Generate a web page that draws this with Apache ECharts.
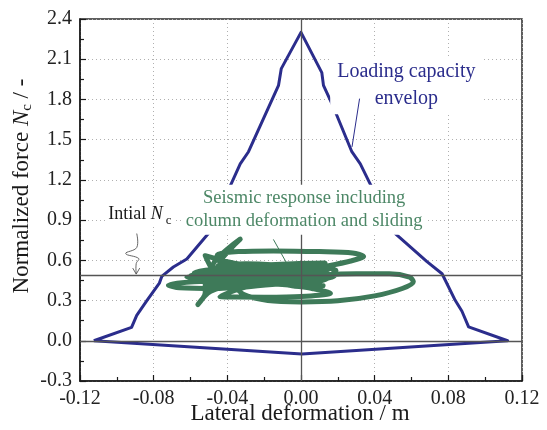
<!DOCTYPE html>
<html>
<head>
<meta charset="utf-8">
<script src="https://cdn.jsdelivr.net/npm/echarts@6/dist/echarts.min.js"></script>
<style>
  html, body { margin: 0; padding: 0; background: #fff; }
  #chart { width: 547px; height: 430px; }
</style>
</head>
<body>
<div id="chart"></div>
<script>
// Axis ticks
const xTicks = [-0.12, -0.08, -0.04, 0.00, 0.04, 0.08, 0.12];
const yTicks = [-0.3, 0.0, 0.3, 0.6, 0.9, 1.2, 1.5, 1.8, 2.1, 2.4];

// Initial axial force level (horizontal reference line)
const initialNc = 0.49;

// Loading capacity envelope: [lateral deformation (m), normalized force]
const envelope = [
  [-0.1125, 0.00], [-0.0920, 0.10], [-0.0892, 0.19], [-0.0837, 0.30],
  [-0.0769, 0.43], [-0.0756, 0.48], [-0.0693, 0.55], [-0.0620, 0.61],
  [-0.0503, 0.80], [-0.0376, 1.18], [-0.0330, 1.32], [-0.0285, 1.41],
  [-0.0122, 1.905], [-0.0113, 1.98], [-0.0107, 2.03], [0.0000, 2.30],
  [0.0113, 2.00], [0.0122, 1.905], [0.0177, 1.74], [0.0276, 1.41],
  [0.0322, 1.32], [0.0372, 1.18], [0.0512, 0.80], [0.0684, 0.59],
  [0.0766, 0.50], [0.0838, 0.30], [0.0874, 0.22], [0.0910, 0.104],
  [0.1122, 0.00], [0.0005, -0.099], [-0.1125, 0.00]
];

// Seismic response path (column deformation + sliding): [deformation (m), normalized force]
const response = [
  [0.000, 0.49], [0.005, 0.51], [-0.003, 0.475], [-0.012, 0.50], [0.002, 0.53],
  [0.011, 0.49], [0.004, 0.455], [-0.014, 0.465], [-0.024, 0.505], [-0.010, 0.54],
  [0.010, 0.525], [0.015, 0.47], [-0.004, 0.44], [-0.030, 0.46], [-0.044, 0.515],
  [-0.026, 0.55], [0.004, 0.555], [0.019, 0.525], [0.012, 0.465], [-0.018, 0.44],
  [-0.050, 0.46], [-0.058, 0.505], [-0.042, 0.535], [-0.012, 0.525], [0.008, 0.505],
  [0.003, 0.465], [-0.028, 0.45], [-0.058, 0.44], [-0.072, 0.415], [-0.066, 0.395],
  [-0.046, 0.39], [-0.020, 0.42], [0.000, 0.455], [0.014, 0.49], [0.030, 0.50],
  [0.048, 0.50], [0.059, 0.475], [0.061, 0.44], [0.055, 0.39], [0.040, 0.335],
  [0.020, 0.298], [0.000, 0.29], [-0.018, 0.30], [-0.031, 0.345], [-0.035, 0.40],
  [-0.026, 0.46], [-0.006, 0.50], [0.010, 0.545], [0.027, 0.595], [0.034, 0.628],
  [0.028, 0.655], [0.010, 0.665], [-0.015, 0.67], [-0.034, 0.665], [-0.045, 0.645],
  [-0.046, 0.61], [-0.036, 0.575], [-0.016, 0.55], [0.008, 0.56], [0.013, 0.58],
  [-0.004, 0.575], [-0.026, 0.56], [-0.044, 0.535], [-0.048, 0.555], [-0.033, 0.758],
  [-0.044, 0.58], [-0.030, 0.52], [-0.008, 0.49], [0.006, 0.47], [-0.012, 0.445],
  [-0.040, 0.43], [-0.052, 0.42], [-0.052, 0.36], [-0.056, 0.27], [-0.049, 0.37],
  [-0.032, 0.43], [-0.010, 0.465], [0.007, 0.48], [0.016, 0.475], [0.004, 0.50],
  [-0.020, 0.515], [-0.045, 0.50], [-0.052, 0.635], [-0.040, 0.59], [-0.024, 0.545],
  [-0.005, 0.53], [0.010, 0.51], [0.000, 0.47], [-0.024, 0.45], [-0.040, 0.475],
  [-0.022, 0.50], [0.002, 0.485], [0.012, 0.455], [-0.006, 0.43], [-0.030, 0.40],
  [-0.044, 0.33], [-0.020, 0.325], [0.000, 0.33], [0.016, 0.355], [0.006, 0.39],
  [-0.010, 0.43], [-0.002, 0.47], [0.008, 0.52], [-0.010, 0.545], [-0.036, 0.53],
  [-0.050, 0.49], [-0.035, 0.46], [-0.010, 0.475], [0.003, 0.51], [-0.008, 0.53],
  [-0.020, 0.49], [-0.006, 0.46], [0.006, 0.44], [0.000, 0.42], [-0.015, 0.45],
  [-0.020, 0.50], [-0.058, 0.48], [-0.062, 0.475], [-0.050, 0.455], [-0.020, 0.44],
  [0.004, 0.45], [0.018, 0.48], [0.006, 0.52], [-0.025, 0.53], [-0.055, 0.50],
  [-0.060, 0.485], [-0.040, 0.47], [-0.005, 0.485], [0.012, 0.50], [0.000, 0.545],
  [-0.030, 0.575], [-0.045, 0.56], [-0.030, 0.54], [0.000, 0.52], [0.015, 0.53],
  [0.006, 0.56], [-0.020, 0.565], [-0.040, 0.545], [-0.052, 0.51], [-0.035, 0.48],
  [-0.010, 0.44], [0.005, 0.42], [0.012, 0.41], [-0.004, 0.415], [-0.030, 0.44],
  [-0.055, 0.46], [-0.045, 0.49], [-0.015, 0.505], [0.005, 0.49], [0.014, 0.46],
  [0.000, 0.43], [-0.020, 0.455], [-0.008, 0.50], [0.002, 0.49]
];

// Annotation text
const envelopeLabel = ['Loading capacity', 'envelop'];
const responseLabel = ['Seismic response including', 'column deformation and sliding'];

const SERIF = 'Liberation Serif';
const BLUE = '#2b2d8c';
const GREEN = '#3e7a59';
const GREEN_TEXT = '#4c8766';

const chart = echarts.init(document.getElementById('chart'), null, { renderer: 'canvas' });

const axisCommon = {
  axisLine: { show: true, onZero: false, lineStyle: { color: '#1a1a1a', width: 1.5 } },
  axisTick: { show: true, inside: true, length: 6, lineStyle: { color: '#1a1a1a', width: 1.2 } },
  minorTick: { show: true, splitNumber: 2, length: 4, lineStyle: { color: '#1a1a1a', width: 1.2 } },
  splitLine: { show: true, lineStyle: { color: '#b0b0b0', width: 1, type: [1, 3] } },
  axisLabel: { color: '#222', fontFamily: SERIF, fontSize: 20 }
};

const fmt = (v, d) => (Math.abs(v) < 1e-9 ? 0 : v).toFixed(d);

chart.setOption({
  animation: false,
  backgroundColor: '#fff',
  grid: {
    left: 80, right: 25, top: 19, bottom: 49,
    show: true, borderColor: '#2a2a2a', borderWidth: 1.5, backgroundColor: 'transparent'
  },
  xAxis: Object.assign({
    type: 'value',
    min: xTicks[0], max: xTicks[xTicks.length - 1],
    interval: xTicks[1] - xTicks[0]
  }, axisCommon, {
    axisLabel: Object.assign({}, axisCommon.axisLabel, {
      margin: 8,
      formatter: v => fmt(v, 2)
    })
  }),
  yAxis: Object.assign({
    type: 'value',
    min: yTicks[0], max: yTicks[yTicks.length - 1],
    interval: yTicks[1] - yTicks[0]
  }, axisCommon, {
    axisLabel: Object.assign({}, axisCommon.axisLabel, {
      margin: 8,
      formatter: v => fmt(v, 1)
    })
  }),
  series: [
    {
      name: 'envelope',
      type: 'line',
      data: envelope,
      showSymbol: false,
      z: 3,
      lineStyle: { color: BLUE, width: 3, join: 'round' }
    },
    {
      name: 'response',
      type: 'line',
      data: response,
      showSymbol: false,
      smooth: 0.3,
      z: 4,
      lineStyle: { color: GREEN, width: 5, cap: 'round', join: 'round' }
    },
    {
      name: 'reference',
      type: 'line',
      data: [],
      z: 5,
      markLine: {
        silent: true,
        symbol: 'none',
        label: { show: false },
        lineStyle: { color: '#555', width: 1.3, type: 'solid' },
        data: [{ xAxis: 0 }, { yAxis: 0 }, { yAxis: initialNc }]
      }
    }
  ]
});

const toPx = (x, y) => chart.convertToPixel({ gridIndex: 0 }, [x, y]);

// Annotation anchors in data space
const envLabelAt = toPx(0.0572, 1.905);
const respLabelAt = toPx(0.0017, 0.978);
const initLabelAt = toPx(-0.0875, 0.94);
const envLeaderA = toPx(0.0318, 1.806);
const envLeaderB = toPx(0.0277, 1.446);
const respLeaderA = toPx(-0.0150, 0.756);
const respLeaderB = toPx(-0.0077, 0.577);
const arrowTop = toPx(-0.0892, 0.80);
const arrowTip = toPx(-0.0892, initialNc);

const tx = arrowTop[0], ty = arrowTop[1];

chart.setOption({
  graphic: [
    // axis titles
    {
      type: 'text', z: 100,
      x: 300, y: 414,
      style: {
        text: 'Lateral deformation / m',
        fill: '#1a1a1a', font: '23px ' + SERIF,
        align: 'center', verticalAlign: 'middle'
      }
    },
    {
      type: 'text', z: 100,
      x: 22, y: 186, rotation: Math.PI / 2,
      style: {
        text: '{n|Normalized force }{i|N}{s|c}{n| / -}',
        fill: '#1a1a1a',
        align: 'center', verticalAlign: 'middle',
        rich: {
          n: { fontFamily: SERIF, fontSize: 23, lineHeight: 26, fill: '#1a1a1a' },
          i: { fontFamily: SERIF, fontSize: 23, fontStyle: 'italic', lineHeight: 26, fill: '#1a1a1a' },
          s: { fontFamily: SERIF, fontSize: 15, lineHeight: 10, verticalAlign: 'bottom', fill: '#1a1a1a' }
        }
      }
    },
    // envelope label with white backing
    {
      type: 'text', z: 90,
      x: envLabelAt[0], y: envLabelAt[1],
      style: {
        text: envelopeLabel.join('\n'),
        fill: BLUE, font: '20px ' + SERIF, lineHeight: 27,
        align: 'center', verticalAlign: 'middle',
        backgroundColor: '#fff', padding: [2, 7, 2, 7]
      }
    },
    {
      type: 'line', z: 95,
      shape: { x1: envLeaderA[0], y1: envLeaderA[1], x2: envLeaderB[0], y2: envLeaderB[1] },
      style: { stroke: BLUE, lineWidth: 1 }
    },
    // response label with white backing
    {
      type: 'text', z: 90,
      x: respLabelAt[0], y: respLabelAt[1],
      style: {
        text: responseLabel.join('\n'),
        fill: GREEN_TEXT, font: '18.5px ' + SERIF, lineHeight: 23,
        align: 'center', verticalAlign: 'middle',
        backgroundColor: '#fff', padding: [2, 4, 2, 4]
      }
    },
    {
      type: 'line', z: 95,
      shape: { x1: respLeaderA[0], y1: respLeaderA[1], x2: respLeaderB[0], y2: respLeaderB[1] },
      style: { stroke: GREEN, lineWidth: 1 }
    },
    // initial Nc label
    {
      type: 'text', z: 90,
      x: initLabelAt[0], y: initLabelAt[1],
      style: {
        text: '{n|Intial }{i|N}{s|c}',
        align: 'center', verticalAlign: 'middle',
        backgroundColor: '#fff', padding: [0, 3, 0, 3],
        rich: {
          n: { fontFamily: SERIF, fontSize: 18, lineHeight: 22, fill: '#1a1a1a' },
          i: { fontFamily: SERIF, fontSize: 18, fontStyle: 'italic', lineHeight: 22, fill: '#1a1a1a', padding: [0, 3, 0, 0] },
          s: { fontFamily: SERIF, fontSize: 13, lineHeight: 22, padding: [12, 0, 0, 0], fill: '#1a1a1a' }
        }
      }
    },
    // wavy pointer down to the initial force line
    {
      type: 'polyline', z: 95,
      shape: {
        smooth: 0.4,
        points: [
          [tx, ty], [tx, ty + 14], [tx - 11, ty + 20], [tx + 2, ty + 25],
          [arrowTip[0] - 0.5, ty + 30], [arrowTip[0] - 0.5, arrowTip[1] - 1]
        ]
      },
      style: { stroke: '#555', lineWidth: 0.9, fill: null }
    },
    {
      type: 'polyline', z: 95,
      shape: {
        points: [
          [arrowTip[0] - 4, arrowTip[1] - 7], [arrowTip[0] - 0.5, arrowTip[1] - 1],
          [arrowTip[0] + 3, arrowTip[1] - 7]
        ]
      },
      style: { stroke: '#555', lineWidth: 0.9, fill: null }
    }
  ]
});
</script>
</body>
</html>
